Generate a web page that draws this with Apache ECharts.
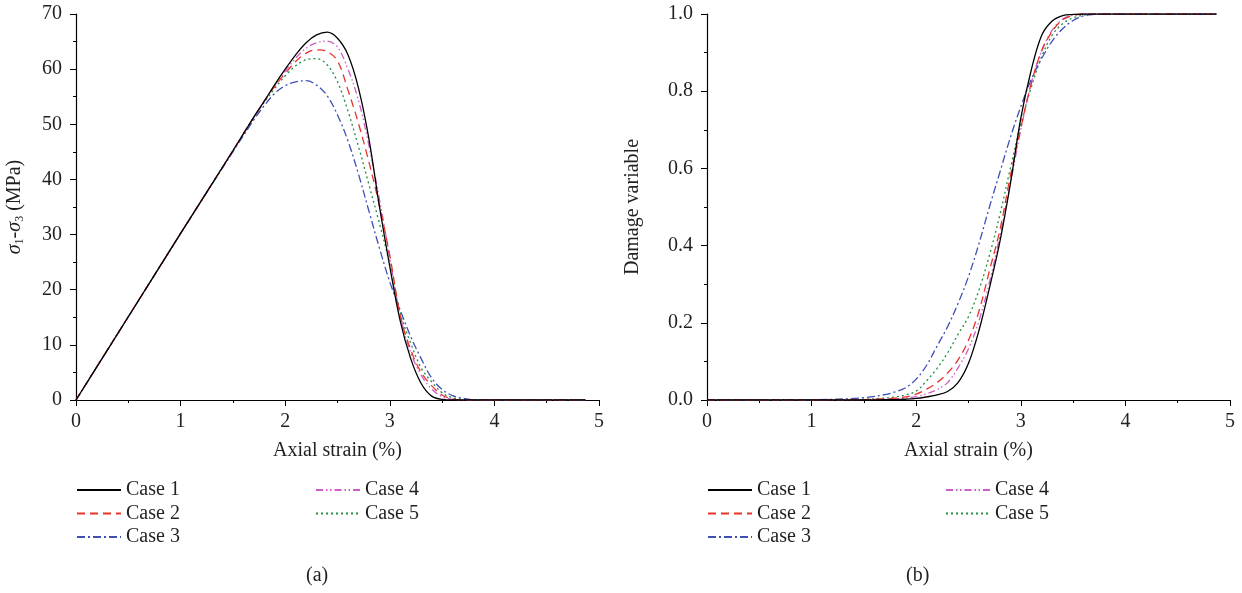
<!DOCTYPE html>
<html>
<head>
<meta charset="utf-8">
<script src="https://cdn.jsdelivr.net/npm/echarts@6/dist/echarts.min.js"></script>
<style>
html,body{margin:0;padding:0;background:#fff;}
#chart{width:1242px;height:593px;}
</style>
</head>
<body>
<div id="chart"></div>
<script>
// Axial strain (%) sample positions
var strain = [0, 0.5, 1.0, 1.5, 1.7, 1.8, 1.9, 2.0, 2.1, 2.2, 2.3, 2.4, 2.5, 2.6, 2.7, 2.8, 2.9, 3.0, 3.1, 3.2, 3.3, 3.4, 3.5, 3.6, 3.7, 3.8, 4.0, 4.5, 4.87];

// Panel (a): deviatoric stress sigma1-sigma3 (MPa)
var stressCase1 = [0, 15.1, 30.2, 45.2, 51.3, 54.2, 57.2, 60.0, 62.6, 64.8, 66.2, 66.7, 65.6, 62.6, 56.6, 47.4, 35.2, 24.2, 14.3, 7.5, 3.0, 0.7, 0.1, 0, 0, 0, 0, 0, 0];
var stressCase2 = [0, 15.1, 30.2, 45.2, 51.3, 54.2, 56.9, 59.2, 61.4, 62.9, 63.5, 63.2, 61.5, 56.2, 50.2, 43.2, 35.3, 26.2, 15.4, 9.1, 5.0, 2.6, 0.9, 0.2, 0, 0, 0, 0, 0];
var stressCase3 = [0, 15.1, 30.2, 45.0, 50.8, 53.4, 55.6, 57.0, 57.7, 57.9, 57.1, 55.2, 51.7, 47.0, 41.0, 34.3, 27.6, 21.4, 16.3, 11.5, 7.5, 4.0, 1.9, 0.8, 0.3, 0.05, 0, 0, 0];
var stressCase4 = [0, 15.1, 30.2, 45.2, 51.3, 54.2, 57.0, 59.6, 62.0, 63.8, 64.8, 65.1, 64.0, 60.0, 54.4, 46.2, 36.5, 25.8, 15.2, 8.6, 4.5, 2.0, 0.6, 0.1, 0, 0, 0, 0, 0];
var stressCase5 = [0, 15.1, 30.2, 45.2, 51.3, 54.0, 56.5, 58.8, 60.6, 61.7, 61.9, 60.8, 57.7, 52.4, 46.0, 39.1, 32.1, 24.6, 15.8, 10.3, 5.8, 3.3, 1.3, 0.4, 0.1, 0, 0, 0, 0];

// Panel (b): damage variable
var damageCase1 = [0, 0, 0, 0, 0.001, 0.001, 0.002, 0.004, 0.008, 0.013, 0.022, 0.045, 0.095, 0.18, 0.29, 0.41, 0.56, 0.73, 0.855, 0.945, 0.982, 0.996, 0.999, 1, 1, 1, 1, 1, 1];
var damageCase2 = [0, 0, 0, 0.001, 0.003, 0.005, 0.008, 0.015, 0.028, 0.045, 0.07, 0.104, 0.155, 0.23, 0.335, 0.44, 0.58, 0.705, 0.82, 0.905, 0.955, 0.985, 0.996, 1, 1, 1, 1, 1, 1];
var damageCase3 = [0, 0, 0.0005, 0.006, 0.014, 0.021, 0.032, 0.054, 0.09, 0.14, 0.19, 0.25, 0.32, 0.405, 0.50, 0.59, 0.68, 0.76, 0.83, 0.885, 0.93, 0.962, 0.983, 0.995, 0.999, 1, 1, 1, 1];
var damageCase4 = [0, 0, 0, 0.001, 0.002, 0.003, 0.005, 0.009, 0.016, 0.027, 0.045, 0.083, 0.133, 0.205, 0.305, 0.425, 0.56, 0.70, 0.82, 0.905, 0.958, 0.987, 0.997, 1, 1, 1, 1, 1, 1];
var damageCase5 = [0, 0, 0, 0.002, 0.005, 0.008, 0.013, 0.023, 0.05, 0.082, 0.122, 0.17, 0.216, 0.285, 0.375, 0.48, 0.60, 0.715, 0.81, 0.89, 0.945, 0.975, 0.99, 0.997, 1, 1, 1, 1, 1];

var caseNames = ['Case 1', 'Case 2', 'Case 3', 'Case 4', 'Case 5'];
var xTicks = [0, 1, 2, 3, 4, 5];
var stressTicks = [0, 10, 20, 30, 40, 50, 60, 70];
var damageTicks = [0, 0.2, 0.4, 0.6, 0.8, 1.0];
var captions = ['(a)', '(b)'];

var FONT = '"Liberation Serif", "DejaVu Serif", serif';
var TXT = '#231f20';
var styles = [
  {color: '#000000', type: 'solid'},
  {color: '#e8352b', type: [8, 5]},
  {color: '#3f4fb8', type: [8, 3, 2, 3]},
  {color: '#cf5ccb', type: [7, 3, 1.5, 2.5, 1.5, 3]},
  {color: '#1f8f3f', type: [2, 3]}
];
var stressSets = [stressCase1, stressCase2, stressCase3, stressCase4, stressCase5];
var damageSets = [damageCase1, damageCase2, damageCase3, damageCase4, damageCase5];

function pairs(ys) { return strain.map(function (x, i) { return [x, ys[i]]; }); }

function xAxisDef(idx) {
  return {
    type: 'value', gridIndex: idx, min: xTicks[0], max: xTicks[xTicks.length - 1], interval: 1,
    name: 'Axial strain (%)', nameLocation: 'middle', nameGap: 41,
    nameTextStyle: {fontFamily: FONT, fontSize: 20, color: TXT},
    axisLine: {show: true, onZero: false, lineStyle: {color: '#000', width: 1.2}},
    axisTick: {show: true, inside: false, length: 6, lineStyle: {color: '#000'}},
    minorTick: {show: true, splitNumber: 2, length: 3, lineStyle: {color: '#000'}},
    axisLabel: {fontFamily: FONT, fontSize: 20, color: TXT, margin: 12},
    splitLine: {show: false}
  };
}
function yAxisDef(idx, ticks, minorSplit, fmt, nameStr, gap, rich) {
  return {
    type: 'value', gridIndex: idx, min: ticks[0], max: ticks[ticks.length - 1],
    interval: ticks[1] - ticks[0],
    name: nameStr, nameLocation: 'middle', nameGap: gap, nameRotate: 90,
    nameTextStyle: {fontFamily: FONT, fontSize: 20, color: TXT, rich: rich},
    axisLine: {show: true, lineStyle: {color: '#000', width: 1.2}},
    axisTick: {show: true, inside: false, length: 6, lineStyle: {color: '#000'}},
    minorTick: {show: true, splitNumber: minorSplit, length: 3, lineStyle: {color: '#000'}},
    axisLabel: {fontFamily: FONT, fontSize: 20, color: TXT, margin: 14, formatter: fmt},
    splitLine: {show: false}
  };
}

var series = [];
caseNames.forEach(function (n, i) {
  series.push({
    name: n, type: 'line', xAxisIndex: 0, yAxisIndex: 0, data: pairs(stressSets[i]),
    showSymbol: false, symbol: 'none', smooth: 0.35, z: 10 - i,
    lineStyle: {color: styles[i].color, type: styles[i].type, width: 1.3},
    itemStyle: {color: styles[i].color}
  });
  series.push({
    name: n, type: 'line', xAxisIndex: 1, yAxisIndex: 1, data: pairs(damageSets[i]),
    showSymbol: false, symbol: 'none', smooth: 0.35, z: 10 - i,
    lineStyle: {color: styles[i].color, type: styles[i].type, width: 1.3},
    itemStyle: {color: styles[i].color}
  });
});

function legendDef(left, names) {
  return {
    left: left, top: 480, orient: 'vertical', data: names, padding: 0,
    itemWidth: 44, itemHeight: 14, itemGap: 3.5, selectedMode: false,
    itemStyle: {opacity: 0},
    textStyle: {fontFamily: FONT, fontSize: 20, color: TXT}
  };
}

var sigmaRich = {
  i: {fontFamily: FONT, fontSize: 20, fontStyle: 'italic', color: TXT},
  s: {fontFamily: FONT, fontSize: 12, color: TXT, padding: [10, 0, 0, 0]},
  n: {fontFamily: FONT, fontSize: 20, color: TXT}
};

var option = {
  animation: false,
  backgroundColor: '#ffffff',
  grid: [
    {left: 76, top: 14, width: 523, height: 386, containLabel: false},
    {left: 707, top: 14, width: 523, height: 386, containLabel: false}
  ],
  xAxis: [xAxisDef(0), xAxisDef(1)],
  yAxis: [
    yAxisDef(0, stressTicks, 2, function (v) { return String(v); },
      '{i|σ}{s|1}{n|-}{i|σ}{s|3}{n| (MPa)}', 50, sigmaRich),
    yAxisDef(1, damageTicks, 2, function (v) { return v.toFixed(1); },
      'Damage variable', 64, null)
  ],
  legend: [
    legendDef(76, caseNames.slice(0, 3)),
    legendDef(315, caseNames.slice(3)),
    legendDef(707, caseNames.slice(0, 3)),
    legendDef(945, caseNames.slice(3))
  ],
  graphic: [
    {type: 'text', left: 306, top: 566, style: {text: captions[0], font: '20px ' + FONT, fill: TXT}},
    {type: 'text', left: 906, top: 566, style: {text: captions[1], font: '20px ' + FONT, fill: TXT}}
  ],
  series: series
};

var chart = echarts.init(document.getElementById('chart'), null, {renderer: 'canvas'});
chart.setOption(option);
</script>
</body>
</html>
